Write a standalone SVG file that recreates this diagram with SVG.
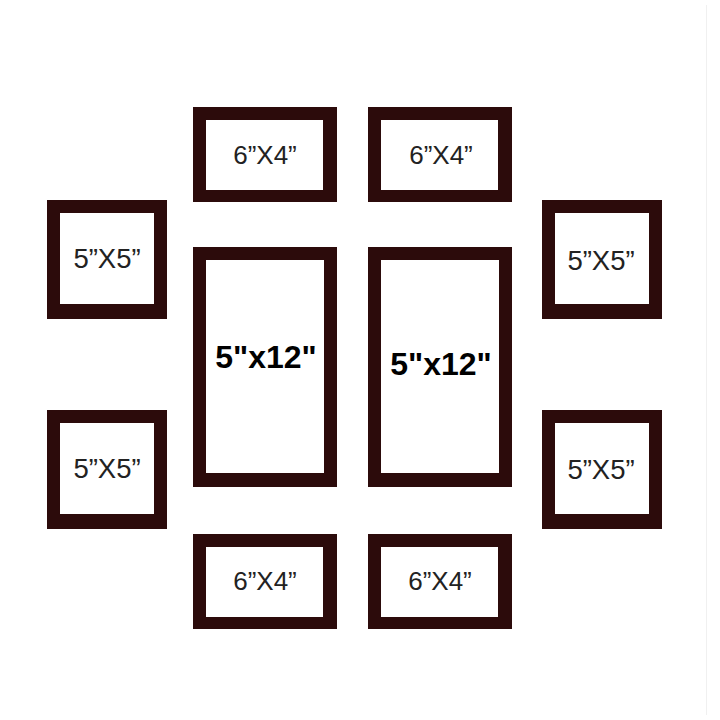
<svg xmlns="http://www.w3.org/2000/svg" width="720" height="720" viewBox="0 0 720 720">
<style>
.frame{fill:#2c0b0b}
.mat{fill:#ffffff}
.lbl{font-family:"Liberation Sans",Arial,sans-serif;font-size:26px;fill:#222222;text-anchor:middle}
.sq{font-size:27.5px}
.big{font-family:"Liberation Sans",Arial,sans-serif;font-size:32px;font-weight:bold;fill:#000000;text-anchor:middle}
</style>
<rect width="720" height="720" fill="#ffffff"/>
<line x1="706.5" y1="5" x2="706.5" y2="715" stroke="#f0f0f0" stroke-width="1"/>
<g id="frame-top-left">
<rect class="frame" x="193" y="107" width="144" height="95"/>
<rect class="mat" x="206" y="120" width="117" height="70"/>
<text class="lbl" x="265" y="164">6”X4”</text>
</g>
<g id="frame-top-right">
<rect class="frame" x="368" y="107" width="144" height="95"/>
<rect class="mat" x="381" y="120" width="117" height="70"/>
<text class="lbl" x="441" y="164">6”X4”</text>
</g>
<g id="frame-left-upper">
<rect class="frame" x="47" y="200" width="120" height="119"/>
<rect class="mat" x="60" y="213" width="94" height="91"/>
<text class="lbl sq" x="107" y="268">5”X5”</text>
</g>
<g id="frame-left-lower">
<rect class="frame" x="47" y="410" width="120" height="119"/>
<rect class="mat" x="60" y="423" width="94" height="91"/>
<text class="lbl sq" x="107" y="478">5”X5”</text>
</g>
<g id="frame-right-upper">
<rect class="frame" x="542" y="200" width="120" height="119"/>
<rect class="mat" x="555" y="213" width="94" height="91"/>
<text class="lbl sq" x="601" y="270">5”X5”</text>
</g>
<g id="frame-right-lower">
<rect class="frame" x="542" y="410" width="120" height="119"/>
<rect class="mat" x="555" y="423" width="94" height="91"/>
<text class="lbl sq" x="601" y="479">5”X5”</text>
</g>
<g id="frame-big-left">
<rect class="frame" x="193" y="247" width="144" height="240"/>
<rect class="mat" x="206" y="260" width="118" height="213"/>
<text class="big" x="266" y="368">5"x12"</text>
</g>
<g id="frame-big-right">
<rect class="frame" x="368" y="247" width="144" height="240"/>
<rect class="mat" x="381" y="260" width="118" height="213"/>
<text class="big" x="441" y="375">5"x12"</text>
</g>
<g id="frame-bottom-left">
<rect class="frame" x="193" y="534" width="144" height="95"/>
<rect class="mat" x="206" y="547" width="117" height="70"/>
<text class="lbl" x="265" y="590">6”X4”</text>
</g>
<g id="frame-bottom-right">
<rect class="frame" x="368" y="534" width="144" height="95"/>
<rect class="mat" x="381" y="547" width="117" height="70"/>
<text class="lbl" x="440" y="590">6”X4”</text>
</g>
<g id="connectors"></g>
</svg>
